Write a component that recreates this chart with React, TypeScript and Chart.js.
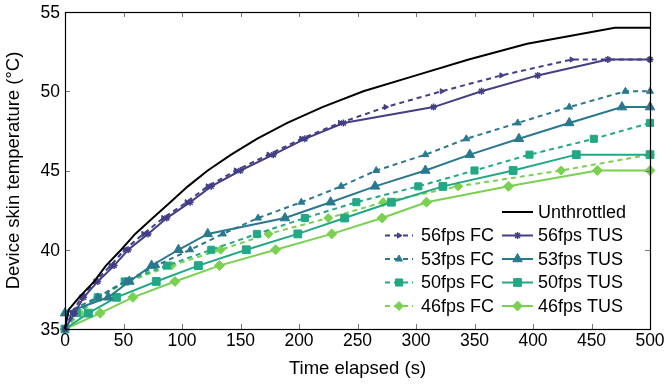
import React, { useEffect, useRef } from 'react';
import { Chart, registerables } from 'chart.js';
import { drawPoint } from 'chart.js/helpers';

Chart.register(...registerables);

const xTicks = [0, 50, 100, 150, 200, 250, 300, 350, 400, 450, 500];
const yTicks = [35, 40, 45, 50, 55];

const unthrottledTime = [0, 3, 12, 25, 35, 48, 60, 75, 90, 105, 122, 142, 164, 190, 220, 255, 300, 345, 395, 470, 500];
const unthrottledTemp = [35, 36.2, 37, 38, 39, 40, 41, 42, 43, 44, 45, 46, 47, 48, 49, 50, 51, 52, 53, 54, 54];

const fc56Time = [0, 6, 14, 26, 39, 51, 67, 84, 104, 122, 146, 174, 202, 235, 274, 322, 373, 433, 500];
const fc56Temp = [35, 36, 37, 38, 39, 40, 41, 42, 43, 44, 45, 46, 47, 48, 49, 50, 51, 52, 52];
const tus56Time = [0, 8, 16, 28, 42, 54, 71, 87, 107, 125, 150, 178, 205, 238, 315, 356, 404, 464, 500];
const tus56Temp = [35, 36, 37, 38, 39, 40, 41, 42, 43, 44, 45, 46, 47, 48, 49, 50, 51, 52, 52];

const fc53Time = [0, 28, 52, 78, 107, 135, 165, 202, 236, 266, 308, 343, 387, 431, 479, 500];
const fc53Temp = [36, 37, 38, 39, 40, 41, 42, 43, 44, 45, 46, 47, 48, 49, 50, 50];
const tus53Time = [0, 37, 55, 74, 97, 122, 188, 227, 265, 308, 346, 388, 431, 476, 500];
const tus53Temp = [36, 37, 38, 39, 40, 41, 42, 43, 44, 45, 46, 47, 48, 49, 49];

const fc50Time = [0, 10, 28, 51, 87, 125, 164, 205, 249, 302, 350, 397, 452, 500];
const fc50Temp = [35, 36, 37, 38, 39, 40, 41, 42, 43, 44, 45, 46, 47, 48];
const tus50Time = [0, 20, 44, 78, 114, 155, 199, 239, 279, 323, 383, 437, 500];
const tus50Temp = [35, 36, 37, 38, 39, 40, 41, 42, 43, 44, 45, 46, 46];

const fc46Time = [0, 13, 28, 54, 91, 133, 174, 225, 272, 336, 424, 500];
const fc46Temp = [35, 36, 37, 38, 39, 40, 41, 42, 43, 44, 45, 46];
const tus46Time = [0, 30, 58, 94, 132, 180, 228, 271, 309, 379, 455, 500];
const tus46Temp = [35, 36, 37, 38, 39, 40, 41, 42, 43, 44, 45, 45];

const C56 = '#433e85';
const C53 = '#2a788e';
const C50 = '#22a884';
const C46 = '#7ad151';

const FONT = '"Liberation Sans", Arial, Helvetica, sans-serif';

const pts = (t: number[], v: number[]) => t.map((x, i) => ({ x, y: v[i] }));

type S = {
  label: string;
  t: number[];
  v: number[];
  color: string;
  dashed: boolean;
  style: any;
  radius: number;
  rotation?: number;
};

const series: S[] = [
  { label: 'Unthrottled', t: unthrottledTime, v: unthrottledTemp, color: '#000000', dashed: false, style: false, radius: 0 },
  { label: '56fps FC', t: fc56Time, v: fc56Temp, color: C56, dashed: true, style: 'triangle', radius: 3, rotation: 90 },
  { label: '56fps TUS', t: tus56Time, v: tus56Temp, color: C56, dashed: false, style: 'star', radius: 3.5 },
  { label: '53fps FC', t: fc53Time, v: fc53Temp, color: C53, dashed: true, style: 'triangle', radius: 4 },
  { label: '53fps TUS', t: tus53Time, v: tus53Temp, color: C53, dashed: false, style: 'triangle', radius: 5.5 },
  { label: '50fps FC', t: fc50Time, v: fc50Temp, color: C50, dashed: true, style: 'rect', radius: 5 },
  { label: '50fps TUS', t: tus50Time, v: tus50Temp, color: C50, dashed: false, style: 'rect', radius: 5.5 },
  { label: '46fps FC', t: fc46Time, v: fc46Temp, color: C46, dashed: true, style: 'rectRot', radius: 4.5 },
  { label: '46fps TUS', t: tus46Time, v: tus46Temp, color: C46, dashed: false, style: 'rectRot', radius: 5 },
];

const framePlugin = {
  id: 'framePlugin',
  afterDraw(chart: any) {
    const { ctx, chartArea, scales } = chart;
    const { left, right, top, bottom } = chartArea;
    const xs = scales.x;
    const ys = scales.y;
    ctx.save();
    // tick marks inward
    ctx.strokeStyle = '#777777';
    ctx.lineWidth = 1;
    ctx.beginPath();
    xTicks.forEach((v) => {
      const px = Math.round(xs.getPixelForValue(v)) + 0.5;
      ctx.moveTo(px, bottom);
      ctx.lineTo(px, bottom - 5);
      ctx.moveTo(px, top);
      ctx.lineTo(px, top + 5);
    });
    yTicks.forEach((v) => {
      const py = Math.round(ys.getPixelForValue(v)) + 0.5;
      ctx.moveTo(left, py);
      ctx.lineTo(left + 5, py);
      ctx.moveTo(right, py);
      ctx.lineTo(right - 5, py);
    });
    ctx.stroke();
    // frame
    ctx.strokeStyle = '#000000';
    ctx.lineWidth = 1.2;
    ctx.strokeRect(Math.round(left) + 0.5, Math.round(top) + 0.5, Math.round(right - left), Math.round(bottom - top));

    // tick labels
    ctx.fillStyle = '#000000';
    ctx.font = `17.5px ${FONT}`;
    ctx.textAlign = 'center';
    ctx.textBaseline = 'top';
    xTicks.forEach((v) => {
      ctx.fillText(String(v), xs.getPixelForValue(v), bottom + 3);
    });
    ctx.textAlign = 'right';
    ctx.textBaseline = 'middle';
    yTicks.forEach((v) => {
      ctx.fillText(String(v), left - 5, ys.getPixelForValue(v) + 1);
    });

    // axis titles
    ctx.font = `18.5px ${FONT}`;
    ctx.textAlign = 'center';
    ctx.textBaseline = 'middle';
    ctx.fillText('Time elapsed (s)', (left + right) / 2, 369);
    ctx.save();
    ctx.translate(14, (top + bottom) / 2);
    ctx.rotate(-Math.PI / 2);
    ctx.fillText('Device skin temperature (°C)', 0, 0);
    ctx.restore();

    // legend
    const rows = [212, 235.5, 259, 282.5, 306];
    const entries: { s: S; col: number; row: number }[] = [
      { s: series[0], col: 1, row: 0 },
      { s: series[1], col: 0, row: 1 },
      { s: series[2], col: 1, row: 1 },
      { s: series[3], col: 0, row: 2 },
      { s: series[4], col: 1, row: 2 },
      { s: series[5], col: 0, row: 3 },
      { s: series[6], col: 1, row: 3 },
      { s: series[7], col: 0, row: 4 },
      { s: series[8], col: 1, row: 4 },
    ];
    const cols = [
      { x0: 385, x1: 413, tx: 421 },
      { x0: 502, x1: 533, tx: 538 },
    ];
    ctx.font = `18px ${FONT}`;
    ctx.textAlign = 'left';
    ctx.textBaseline = 'middle';
    entries.forEach(({ s, col, row }) => {
      const c = cols[col];
      const y = rows[row];
      ctx.strokeStyle = s.color;
      ctx.lineWidth = 2;
      ctx.setLineDash(s.dashed ? [5, 4] : []);
      ctx.beginPath();
      ctx.moveTo(c.x0, y);
      ctx.lineTo(c.x1, y);
      ctx.stroke();
      ctx.setLineDash([]);
      if (s.style) {
        ctx.fillStyle = s.color;
        ctx.strokeStyle = s.color;
        ctx.lineWidth = s.style === 'star' ? 1.5 : 1;
        drawPoint(ctx, { pointStyle: s.style, radius: s.radius, rotation: s.rotation || 0, borderWidth: ctx.lineWidth }, (c.x0 + c.x1) / 2, y);
      }
      ctx.fillStyle = '#000000';
      ctx.fillText(s.label, c.tx, y + 1);
    });
    ctx.restore();
  },
};

export default function App() {
  const ref = useRef<HTMLCanvasElement | null>(null);
  useEffect(() => {
    if (!ref.current) return;
    const chart = new Chart(ref.current, {
      type: 'line',
      data: {
        datasets: series.map((s) => ({
          label: s.label,
          data: pts(s.t, s.v),
          borderColor: s.color,
          backgroundColor: s.color,
          borderWidth: 2,
          borderDash: s.dashed ? [5, 4] : [],
          pointStyle: s.style,
          pointRadius: s.radius,
          pointRotation: s.rotation || 0,
          pointBorderWidth: s.style === 'star' ? 1.5 : 1,
          pointBackgroundColor: s.color,
          pointBorderColor: s.color,
          tension: 0,
          fill: false,
          clip: false as any,
        })),
      },
      options: {
        animation: false,
        responsive: false,
        devicePixelRatio: 1,
        layout: { padding: { left: 65, right: 15, top: 12, bottom: 57 } },
        plugins: { legend: { display: false }, tooltip: { enabled: false } },
        scales: {
          x: { type: 'linear', min: 0, max: 500, display: false },
          y: { type: 'linear', min: 35, max: 55, display: false },
        },
      },
      plugins: [framePlugin],
    });
    return () => chart.destroy();
  }, []);
  return (
    <div style={{ position: 'fixed', left: 0, top: 0, width: 665, height: 386, background: '#fff' }}>
      <canvas ref={ref} width={665} height={386} style={{ width: 665, height: 386 }} />
    </div>
  );
}
